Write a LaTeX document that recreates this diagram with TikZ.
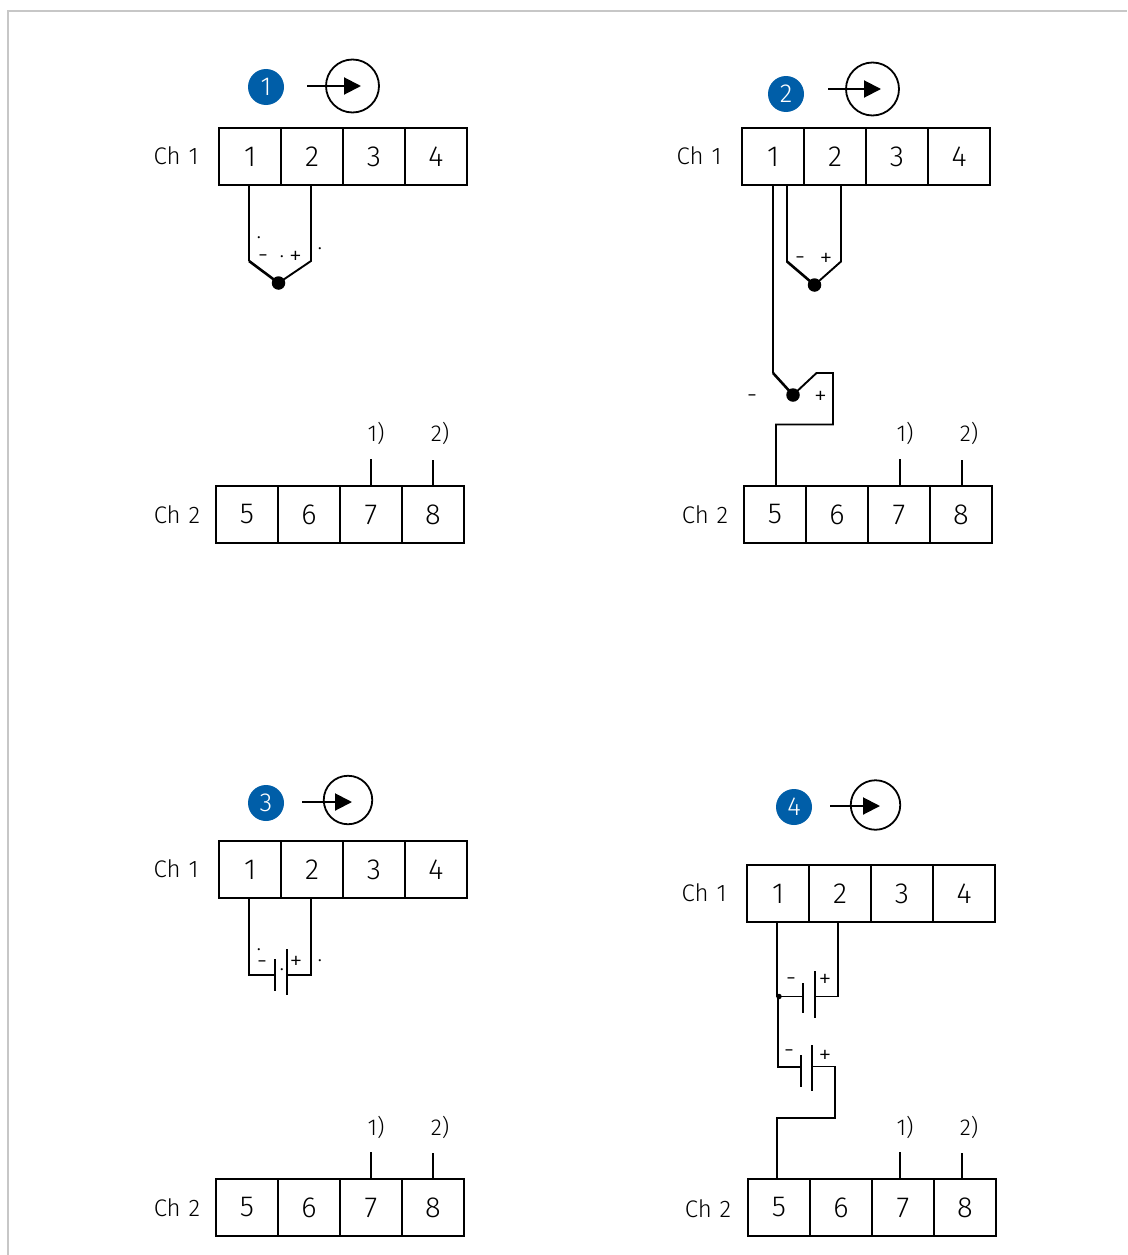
\documentclass[tikz,border=0pt]{standalone}
\usepackage{fontspec}
\setmainfont{Fira Sans Light}
\usetikzlibrary{arrows.meta}
\tikzset{
  wire/.style={line width=1.9pt,line join=miter},
  thickwire/.style={line width=2.6pt},
  cell/.style={draw=black,line width=1.8pt,minimum width=62pt,minimum height=57.5pt,inner sep=0pt,outer sep=0pt,font=\fontsize{29}{29}\selectfont,text=black},
  chlabel/.style={font=\fontsize{24}{24}\selectfont,text=black,inner sep=0pt},
  noteno/.style={font=\fontsize{23}{23}\selectfont,text=black,inner sep=0pt},
  badge/.style={circle,fill=badgeblue,minimum size=36pt,inner sep=0pt,text=white,font=\fontsize{26}{26}\selectfont},
  pole/.style={font=\fontsize{26}{26}\selectfont,inner sep=0pt,text=black,yshift=-3pt},
  polem/.style={font=\fontsize{26}{26}\selectfont,inner sep=0pt,text=black,yshift=-5pt},
  tiny/.style={font=\fontsize{22}{22}\selectfont,inner sep=0pt,text=black},
  junction/.style={circle,fill=black,inner sep=0pt,minimum size=13.5pt},
  smalldot/.style={circle,fill=black,inner sep=0pt,minimum size=5.5pt},
  srcring/.style={circle,draw=black,line width=1.8pt,inner sep=0pt},
  flow/.style={line width=2pt,-{Triangle[length=17pt,width=17pt]},shorten >=0pt},
  plate/.style={line width=2pt}
}
\definecolor{badgeblue}{HTML}{005EA8}
\newcommand{\termrow}[6]{%
  \foreach \i/\j in {0/#4,1/#5,2/#6,3/\the\numexpr#6+1\relax}{
    \node[cell] (#1\i) at ({#2+31+62*\i},#3) {\j};
  }%
}
\begin{document}
\begin{tikzpicture}[x=1pt,y=-1pt]
\useasboundingbox (0,0) rectangle (1127,1255);
\fill[white] (0,0) rectangle (1127,1255);
\coordinate (fa) at (8,1255); \coordinate (fb) at (8,11); \coordinate (fc) at (1127,11);
\draw[line width=1.8pt,black!22] (fa) -- (fb) -- (fc);

% ---------- Panel 1
\node[badge] (b1) at (266,87) {1};
\node[srcring,minimum size=53pt] (s1) at (352.5,86) {};
\coordinate (s1a) at (307,86);
\coordinate (s1b) at (361,86);
\draw[flow] (s1a) -- (s1b);
\node[chlabel] (c1a) at (176,156) {Ch\,\,1};
\termrow{pa}{219}{156.5}{1}{2}{3}
\node[chlabel] (c1b) at (177,515) {Ch\,\,2};
\termrow{pb}{216}{514.5}{5}{6}{7}
\node[junction] (j1) at (278.5,283) {};
\coordinate (w1a) at (249,185); \coordinate (w1b) at (249,261);
\coordinate (w1c) at (311,185); \coordinate (w1d) at (311,261);
\draw[wire] (w1a) -- (w1b);
\draw[thickwire] (w1b) -- (j1.center);
\draw[wire] (w1c) -- (w1d) -- (j1.center);
\node[polem] (m1) at (263,254) {-};
\node[pole] (p1) at (295.5,255) {+};
\node[tiny] at (259,238) {.}; \node[tiny] at (282,257) {.}; \node[tiny] at (320,249) {.};
\coordinate (t1a) at (371,459); \coordinate (t1b) at (433,460);
\draw[wire] (t1a) -- (pb2.north -| t1a);
\draw[wire] (t1b) -- (pb3.north -| t1b);
\node[noteno] (n1a) at (376,433) {1)};
\node[noteno] (n1b) at (440,433) {2)};

% ---------- Panel 2
\node[badge] (b2) at (786,94) {2};
\node[srcring,minimum size=53pt] (s2) at (872.5,89) {};
\coordinate (s2a) at (828,89);
\coordinate (s2b) at (881,89);
\draw[flow] (s2a) -- (s2b);
\node[chlabel] (c2a) at (699,156) {Ch\,\,1};
\termrow{qa}{742}{156.5}{1}{2}{3}
\node[chlabel] (c2b) at (705,515) {Ch\,\,2};
\termrow{qb}{744}{514.5}{5}{6}{7}
\node[junction] (j2a) at (814.5,285) {};
\coordinate (w2a) at (787,185); \coordinate (w2b) at (787,261.5);
\coordinate (w2c) at (841,185); \coordinate (w2d) at (841,261.5);
\draw[wire] (w2a) -- (w2b);
\draw[thickwire] (w2b) -- (j2a.center);
\draw[wire] (w2c) -- (w2d) -- (j2a.center);
\node[polem] at (800,256) {-};
\node[pole] at (826,257) {+};
\node[junction] (j2b) at (793,395) {};
\coordinate (w2e) at (773,185); \coordinate (w2f) at (773,373);
\coordinate (w2g) at (816.5,373); \coordinate (w2h) at (833,373);
\coordinate (w2i) at (833,424.5); \coordinate (w2j) at (776,424.5); \coordinate (w2k) at (776,486);
\draw[wire] (w2e) -- (w2f);
\draw[thickwire] (w2f) -- (j2b.center);
\draw[wire] (j2b.center) -- (w2g) -- (w2h) -- (w2i) -- (w2j) -- (w2k);
\node[polem] at (752,394) {-};
\node[pole] at (820.5,394.5) {+};
\coordinate (t2a) at (900,459); \coordinate (t2b) at (962,460);
\draw[wire] (t2a) -- (qb2.north -| t2a);
\draw[wire] (t2b) -- (qb3.north -| t2b);
\node[noteno] at (905,433) {1)};
\node[noteno] at (969,433) {2)};

% ---------- Panel 3
\node[badge] (b3) at (266,803) {3};
\node[srcring,minimum size=48.5pt] (s3) at (348,800) {};
\coordinate (s3a) at (302,802);
\coordinate (s3b) at (352,802);
\draw[flow] (s3a) -- (s3b);
\node[chlabel] (c3a) at (176,869) {Ch\,\,1};
\termrow{ra}{219}{869.5}{1}{2}{3}
\node[chlabel] (c3b) at (177,1208) {Ch\,\,2};
\termrow{rb}{216}{1207.5}{5}{6}{7}
\coordinate (w3a) at (249,898); \coordinate (w3b) at (249,975); \coordinate (w3c) at (275,975);
\coordinate (w3d) at (287,975); \coordinate (w3e) at (311,975); \coordinate (w3f) at (311,898);
\coordinate (k3a) at (275,959); \coordinate (k3b) at (275,991);
\coordinate (k3c) at (287,949); \coordinate (k3d) at (287,995);
\draw[wire] (w3a) -- (w3b) -- (w3c);
\draw[wire] (w3d) -- (w3e) -- (w3f);
\draw[plate] (k3a) -- (k3b);
\draw[plate] (k3c) -- (k3d);
\node[polem] at (262,960) {-};
\node[pole] at (296,960) {+};
\node[tiny] at (259,950) {.}; \node[tiny] at (282,970) {.}; \node[tiny] at (320,961) {.};
\coordinate (t3a) at (371,1152); \coordinate (t3b) at (433,1153);
\draw[wire] (t3a) -- (rb2.north -| t3a);
\draw[wire] (t3b) -- (rb3.north -| t3b);
\node[noteno] at (376,1127) {1)};
\node[noteno] at (440,1127) {2)};

% ---------- Panel 4
\node[badge] (b4) at (794,807) {4};
\node[srcring,minimum size=49.5pt] (s4) at (875.5,805) {};
\coordinate (s4a) at (830,806);
\coordinate (s4b) at (880,806);
\draw[flow] (s4a) -- (s4b);
\node[chlabel] (c4a) at (704,893) {Ch\,\,1};
\termrow{ua}{747}{893.5}{1}{2}{3}
\node[chlabel] (c4b) at (708,1209) {Ch\,\,2};
\termrow{ub}{748}{1207.5}{5}{6}{7}
\node[smalldot] (j4) at (779,996.5) {};
\coordinate (w4a) at (777,922); \coordinate (w4a2) at (777,996.5); \coordinate (w4a3) at (778,996.5);
\coordinate (w4b) at (778,1067); \coordinate (w4c) at (801,1067);
\coordinate (w4d) at (803,996.5); \coordinate (w4e) at (815,996.5); \coordinate (w4f) at (838,996.5); \coordinate (w4g) at (838,922);
\coordinate (w4h) at (812,1066.5); \coordinate (w4i) at (835,1066.5); \coordinate (w4j) at (835,1118);
\coordinate (w4k) at (777,1118); \coordinate (w4l) at (777,1179);
\coordinate (k4a) at (803,983); \coordinate (k4b) at (803,1013);
\coordinate (k4c) at (815,971); \coordinate (k4d) at (815,1018);
\coordinate (k4e) at (801,1055); \coordinate (k4f) at (801,1087);
\coordinate (k4g) at (812,1045); \coordinate (k4h) at (812,1091);
\draw[wire] (w4a) -- (w4a2);
\draw[wire] (w4a3) -- (w4b) -- (w4c);
\draw[wire] (j4.center) -- (w4d);
\draw[wire] (w4e) -- (w4f) -- (w4g);
\draw[wire] (w4h) -- (w4i) -- (w4j) -- (w4k) -- (w4l);
\draw[plate] (k4a) -- (k4b);
\draw[plate] (k4c) -- (k4d);
\draw[plate] (k4e) -- (k4f);
\draw[plate] (k4g) -- (k4h);
\node[polem] at (791,977) {-};
\node[pole] at (825,978) {+};
\node[polem] at (789,1049) {-};
\node[pole] at (825,1054) {+};
\coordinate (t4a) at (900,1152); \coordinate (t4b) at (962,1153);
\draw[wire] (t4a) -- (ub2.north -| t4a);
\draw[wire] (t4b) -- (ub3.north -| t4b);
\node[noteno] at (905,1127) {1)};
\node[noteno] at (969,1127) {2)};
\end{tikzpicture}
\end{document}
